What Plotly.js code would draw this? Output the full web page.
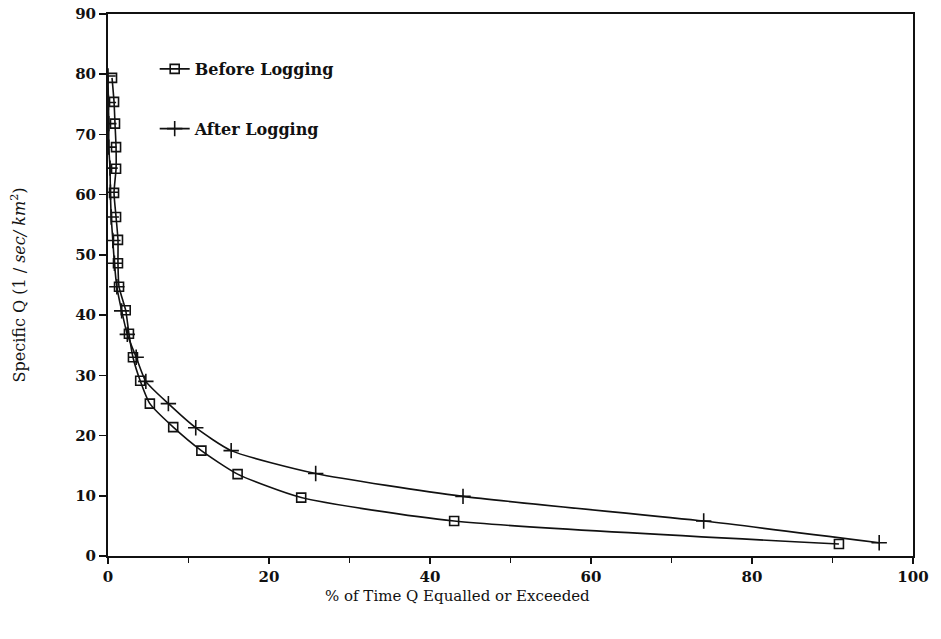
<!DOCTYPE html>
<html>
<head>
<meta charset="utf-8">
<script src="https://cdn.plot.ly/plotly-3.0.1.min.js"></script>
<style>html,body{margin:0;padding:0;background:#fff;}#chart{width:941px;height:639px;}</style>
</head>
<body>
<div id="chart"></div>
<script>
// Before Logging (squares)
const beforeX = [0.5, 0.75, 0.87, 1.0, 1.0, 0.75, 1.0, 1.24, 1.24, 1.37, 2.2, 2.6, 3.1, 4.0, 5.2, 8.1, 11.6, 16.1, 24.0, 43.0, 90.8];
const beforeY = [79.4, 75.4, 71.8, 67.9, 64.3, 60.3, 56.3, 52.5, 48.6, 44.7, 40.8, 36.9, 33.0, 29.1, 25.3, 21.4, 17.5, 13.6, 9.7, 5.8, 2.0];
// After Logging (crosses)
const afterX = [0.0, 0.05, 0.1, 0.1, 0.25, 0.3, 0.4, 0.6, 0.8, 1.1, 1.7, 2.4, 3.5, 4.7, 7.5, 10.9, 15.3, 25.8, 44.1, 74.0, 95.8];
const afterY = [79.7, 75.3, 71.8, 67.9, 64.4, 60.4, 56.3, 52.4, 48.6, 44.7, 40.7, 36.8, 33.0, 29.0, 25.3, 21.3, 17.5, 13.7, 9.9, 5.8, 2.2];

const xTickVals = [0, 20, 40, 60, 80, 100];
const yTickVals = [0, 10, 20, 30, 40, 50, 60, 70, 80, 90];
const xTitle = "% of Time Q Equalled or Exceeded";
const yTitle = "Specific Q (1 / <i>sec/ km</i><sup>2</sup>)";

const serif = "DejaVu Serif";

const traces = [
  {
    x: beforeX, y: beforeY, name: "Before Logging", type: "scatter", mode: "lines+markers",
    legendgroup: "a",
    line: {color: "#111", width: 1.6, shape: "spline", smoothing: 0.6},
    marker: {symbol: "square-open", size: 9, color: "#111", line: {width: 1.6, color: "#111"}}
  },
  {
    x: afterX, y: afterY, name: "After Logging", type: "scatter", mode: "lines+markers",
    legendgroup: "b",
    line: {color: "#111", width: 1.6, shape: "spline", smoothing: 0.6},
    marker: {symbol: "cross-thin-open", size: 11, color: "#111", line: {width: 1.6, color: "#111"}}
  }
];

const layout = {
  width: 941, height: 639,
  margin: {l: 108, r: 28, t: 14, b: 83},
  paper_bgcolor: "#fff", plot_bgcolor: "#fff",
  font: {family: serif, color: "#111"},
  showlegend: true,
  legend: {
    x: 0.058, y: 0.93, xanchor: "left", yanchor: "top",
    bgcolor: "rgba(0,0,0,0)", borderwidth: 0,
    font: {family: serif, size: 16, color: "#111", weight: "bold"},
    traceorder: "grouped", tracegroupgap: 36
  },
  xaxis: {
    range: [0, 100],
    tickmode: "array", tickvals: xTickVals,
    ticks: "outside", ticklen: 6, tickwidth: 1.5, tickcolor: "#111",
    minor: {dtick: 10, ticks: "outside", ticklen: 5, tickwidth: 1.5, tickcolor: "#111"},
    showline: true, linecolor: "#111", linewidth: 2, mirror: true,
    showgrid: false, zeroline: false,
    tickfont: {family: serif, size: 15, color: "#111", weight: "bold"}
  },
  yaxis: {
    range: [0, 90],
    tickmode: "array", tickvals: yTickVals,
    ticks: "outside", ticklen: 7, tickwidth: 1.5, tickcolor: "#111",
    showline: true, linecolor: "#111", linewidth: 2, mirror: true,
    showgrid: false, zeroline: false,
    tickfont: {family: serif, size: 15, color: "#111", weight: "bold"},
    title: {text: yTitle, font: {family: serif, size: 16, color: "#111"}, standoff: 46}
  },
  annotations: [
    {
      text: xTitle, xref: "paper", yref: "paper", x: 0.434, y: -0.074,
      xanchor: "center", yanchor: "middle", showarrow: false,
      font: {family: serif, size: 15, color: "#111"}
    }
  ]
};

Plotly.newPlot("chart", traces, layout, {displayModeBar: false, staticPlot: true});
</script>
</body>
</html>
